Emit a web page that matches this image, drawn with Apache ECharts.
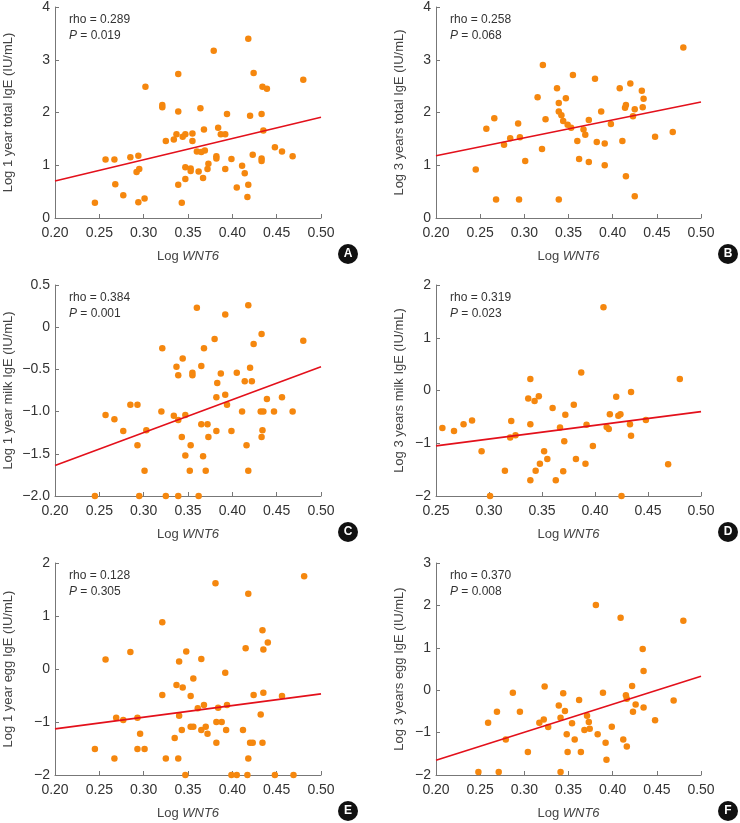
<!DOCTYPE html>
<html>
<head>
<meta charset="utf-8">
<script src="https://cdn.jsdelivr.net/npm/echarts@6/dist/echarts.min.js"></script>
<style>
  html, body { margin: 0; padding: 0; background: #fff; }
  #chart { width: 740px; height: 823px; }
</style>
</head>
<body>
<div id="chart"></div>
<script>
// points: [Log WNT6, Log IgE]
var ptsA = [[0.245,0.29],[0.257,1.11],[0.267,1.11],[0.268,0.64],[0.277,0.43],[0.285,1.15],[0.294,1.18],[0.292,0.87],[0.295,0.93],[0.294,0.30],[0.301,0.37],[0.302,2.49],[0.321,2.14],[0.321,2.10],[0.325,1.46],[0.334,1.49],[0.337,1.59],[0.339,2.73],[0.339,2.02],[0.339,0.63],[0.343,0.29],[0.344,1.54],[0.347,1.59],[0.347,0.96],[0.347,0.74],[0.353,0.94],[0.353,0.89],[0.355,1.60],[0.355,1.46],[0.360,1.26],[0.362,0.88],[0.364,2.08],[0.365,1.25],[0.369,1.28],[0.368,1.68],[0.367,0.76],[0.373,1.03],[0.372,0.93],[0.379,3.17],[0.382,1.17],[0.382,1.13],[0.384,1.71],[0.387,1.59],[0.392,1.59],[0.394,1.97],[0.392,0.93],[0.399,1.12],[0.405,0.58],[0.411,0.99],[0.414,0.85],[0.417,0.40],[0.418,0.63],[0.418,3.40],[0.420,1.94],[0.423,1.20],[0.424,2.75],[0.433,1.97],[0.434,2.49],[0.439,2.45],[0.435,1.66],[0.433,1.13],[0.433,1.08],[0.448,1.34],[0.456,1.26],[0.468,1.17],[0.480,2.62]];
var ptsB = [[0.245,0.92],[0.257,1.69],[0.266,1.89],[0.268,0.35],[0.277,1.39],[0.284,1.51],[0.293,1.79],[0.295,1.53],[0.294,0.35],[0.301,1.08],[0.315,2.29],[0.320,1.31],[0.321,2.90],[0.324,1.87],[0.337,2.46],[0.339,2.18],[0.339,2.02],[0.339,0.35],[0.342,1.95],[0.344,1.84],[0.347,2.27],[0.349,1.77],[0.353,1.71],[0.355,2.71],[0.360,1.46],[0.362,1.12],[0.367,1.68],[0.369,1.58],[0.373,1.06],[0.373,1.86],[0.380,2.64],[0.382,1.44],[0.387,2.02],[0.391,1.41],[0.391,1.00],[0.398,1.78],[0.408,2.46],[0.411,1.46],[0.414,2.09],[0.415,2.14],[0.415,0.79],[0.420,2.55],[0.423,1.93],[0.425,2.06],[0.425,0.41],[0.433,2.41],[0.435,2.26],[0.434,2.10],[0.448,1.54],[0.468,1.63],[0.480,3.23]];
var ptsC = [[0.245,-2.00],[0.257,-1.04],[0.267,-1.09],[0.277,-1.23],[0.285,-0.92],[0.293,-0.92],[0.293,-1.40],[0.295,-2.00],[0.301,-1.70],[0.303,-1.22],[0.321,-0.25],[0.320,-1.00],[0.325,-2.00],[0.334,-1.05],[0.337,-0.47],[0.339,-0.57],[0.339,-1.10],[0.339,-2.00],[0.343,-1.30],[0.344,-0.37],[0.347,-1.04],[0.347,-1.52],[0.352,-1.70],[0.353,-1.40],[0.355,-0.54],[0.355,-0.57],[0.360,0.23],[0.362,-2.00],[0.365,-0.46],[0.365,-1.15],[0.367,-1.53],[0.368,-0.25],[0.370,-1.70],[0.372,-1.15],[0.373,-1.30],[0.380,-0.14],[0.382,-0.83],[0.382,-1.23],[0.383,-0.66],[0.387,-0.55],[0.392,0.15],[0.392,-0.80],[0.394,-0.92],[0.399,-1.23],[0.405,-0.54],[0.411,-1.00],[0.414,-0.64],[0.416,-1.40],[0.418,0.26],[0.418,-1.70],[0.420,-0.48],[0.422,-0.64],[0.424,-0.20],[0.433,-0.08],[0.432,-1.00],[0.435,-1.00],[0.434,-1.22],[0.433,-1.30],[0.439,-0.85],[0.447,-1.00],[0.456,-0.83],[0.468,-1.00],[0.480,-0.16]];
var ptsD = [[0.256,-0.71],[0.267,-0.77],[0.276,-0.64],[0.284,-0.57],[0.293,-1.15],[0.301,-2.00],[0.315,-1.52],[0.320,-0.89],[0.321,-0.58],[0.325,-0.85],[0.337,-0.15],[0.339,0.22],[0.339,-0.64],[0.339,-1.70],[0.343,-0.20],[0.344,-1.52],[0.347,-0.11],[0.348,-1.39],[0.352,-1.15],[0.355,-1.30],[0.360,-0.33],[0.363,-1.70],[0.367,-0.70],[0.370,-1.53],[0.371,-0.96],[0.372,-0.46],[0.380,-0.27],[0.382,-1.30],[0.387,0.34],[0.391,-1.39],[0.392,-0.65],[0.398,-1.05],[0.408,1.58],[0.411,-0.69],[0.413,-0.73],[0.414,-0.45],[0.420,-0.12],[0.422,-0.48],[0.424,-0.45],[0.425,-2.00],[0.433,-0.64],[0.434,-0.03],[0.434,-0.86],[0.448,-0.56],[0.469,-1.40],[0.480,0.22]];
var ptsE = [[0.245,-1.51],[0.257,0.18],[0.267,-1.69],[0.269,-0.92],[0.277,-0.96],[0.285,0.32],[0.293,-0.92],[0.293,-1.51],[0.296,-1.22],[0.301,-1.51],[0.321,0.88],[0.321,-0.49],[0.325,-1.69],[0.335,-1.30],[0.337,-0.30],[0.340,0.14],[0.340,-0.88],[0.339,-1.69],[0.343,-1.15],[0.344,-0.35],[0.348,0.33],[0.347,-2.00],[0.353,-0.51],[0.353,-1.09],[0.356,-1.09],[0.356,-0.18],[0.361,-0.74],[0.365,0.19],[0.365,-1.15],[0.368,-0.68],[0.370,-1.09],[0.372,-1.22],[0.381,1.62],[0.382,-1.00],[0.382,-1.39],[0.384,-0.73],[0.388,-1.00],[0.392,-0.07],[0.393,-1.15],[0.394,-0.68],[0.399,-2.00],[0.405,-2.00],[0.412,-1.15],[0.415,0.39],[0.417,-2.00],[0.418,1.42],[0.418,-1.69],[0.420,-1.39],[0.423,-1.39],[0.424,-0.49],[0.432,-0.86],[0.434,0.73],[0.434,-1.39],[0.435,0.37],[0.435,-0.45],[0.440,0.50],[0.448,-2.00],[0.456,-0.51],[0.469,-2.00],[0.481,1.75]];
var ptsF = [[0.248,-1.93],[0.259,-0.77],[0.269,-0.51],[0.271,-1.93],[0.279,-1.16],[0.287,-0.06],[0.295,-0.51],[0.304,-1.46],[0.317,-0.77],[0.322,-0.69],[0.323,0.09],[0.327,-0.87],[0.339,-0.36],[0.341,-0.65],[0.341,-1.93],[0.344,-0.07],[0.346,-0.49],[0.348,-1.04],[0.349,-1.46],[0.354,-0.78],[0.357,-1.16],[0.362,-0.23],[0.364,-1.46],[0.368,-0.94],[0.371,-0.60],[0.373,-0.75],[0.374,-0.91],[0.381,2.01],[0.383,-1.04],[0.389,-0.06],[0.392,-1.24],[0.393,-1.64],[0.399,-0.86],[0.409,1.71],[0.412,-1.16],[0.415,-0.12],[0.416,-0.20],[0.416,-1.33],[0.422,0.10],[0.423,-0.51],[0.426,-0.34],[0.434,0.97],[0.435,0.45],[0.435,-0.41],[0.448,-0.71],[0.469,-0.24],[0.480,1.64]];

// fitted lines: [[x0,y0],[x1,y1]]
var fitA = [[0.20,0.70],[0.50,1.91]];
var fitB = [[0.20,1.18],[0.50,2.20]];
var fitC = [[0.20,-1.64],[0.50,-0.47]];
var fitD = [[0.25,-1.05],[0.50,-0.40]];
var fitE = [[0.20,-1.13],[0.50,-0.47]];
var fitF = [[0.20,-1.65],[0.50,0.33]];

var letters = ['A','B','C','D','E','F'];
var yNames = ['Log 1 year total IgE (IU/mL)','Log 3 years total IgE (IU/mL)','Log 1 year milk IgE (IU/mL)','Log 3 years milk IgE (IU/mL)','Log 1 year egg IgE (IU/mL)','Log 3 years egg IgE (IU/mL)'];
var rhos = ['0.289','0.258','0.384','0.319','0.128','0.370'];
var pvals = ['0.019','0.068','0.001','0.023','0.305','0.008'];
var xMins = [0.20,0.20,0.20,0.25,0.20,0.20];
var yMins = [0,0,-2,-2,-2,-2];
var yMaxs = [4,4,0.5,2,2,3];
var yIntervals = [1,1,0.5,1,1,1];
var pts = [ptsA,ptsB,ptsC,ptsD,ptsE,ptsF];
var fits = [fitA,fitB,fitC,fitD,fitE,fitF];

var FONT = 'Liberation Sans, Arial, sans-serif';
var grids = [
    {left: 55, top: 7, width: 266, height: 211},
    {left: 436, top: 7, width: 265, height: 211},
    {left: 55, top: 285, width: 266, height: 211},
    {left: 436, top: 285, width: 265, height: 211},
    {left: 55, top: 563, width: 266, height: 212},
    {left: 436, top: 563, width: 265, height: 212}
];

var chart = echarts.init(document.getElementById('chart'));
var xAxes = [], yAxes = [], series = [], graphic = [];

function minus(s) { return s.replace('-', '\u2212'); }

for (var i = 0; i < 6; i++) {
    var g = grids[i];
    var leftCol = (i % 2 === 0);
    xAxes.push({
        gridIndex: i, type: 'value', min: xMins[i], max: 0.5, interval: 0.05,
        name: '{n|Log }{w|WNT6}', nameLocation: 'middle', nameGap: 32,
        nameTextStyle: {
            rich: {
                n: {fontFamily: FONT, fontSize: 13, color: '#444'},
                w: {fontFamily: FONT, fontSize: 13, color: '#444', fontStyle: 'italic'}
            }
        },
        axisLine: {onZero: false, lineStyle: {color: '#777', width: 1}},
        axisTick: {inside: true, length: 4, lineStyle: {color: '#777'}},
        axisLabel: {fontFamily: FONT, fontSize: 14, color: '#333', margin: 8,
            formatter: function (v) { return v.toFixed(2); }},
        splitLine: {show: false}
    });
    yAxes.push({
        gridIndex: i, type: 'value', min: yMins[i], max: yMaxs[i], interval: yIntervals[i],
        name: yNames[i], nameLocation: 'middle', nameGap: leftCol ? 40 : 30,
        nameTextStyle: {fontFamily: FONT, fontSize: 13, color: '#444'},
        axisLine: {show: true, onZero: false, lineStyle: {color: '#777', width: 1}},
        axisTick: {show: true, inside: true, length: 4, lineStyle: {color: '#777'}},
        axisLabel: {fontFamily: FONT, fontSize: 14, color: '#333', margin: 5,
            formatter: (function (step) {
                return function (v) {
                    if (v === 0) return '0';
                    return minus(step < 1 ? v.toFixed(1) : String(v));
                };
            })(yIntervals[i])},
        splitLine: {show: false}
    });
    series.push({
        type: 'scatter', xAxisIndex: i, yAxisIndex: i, data: pts[i],
        symbolSize: 6.5, itemStyle: {color: '#f5870e', opacity: 1}, z: 2
    });
    series.push({
        type: 'line', xAxisIndex: i, yAxisIndex: i, data: fits[i],
        symbol: 'none', lineStyle: {color: '#e3101b', width: 1.6}, z: 3
    });
    graphic.push({
        type: 'text', left: g.left + 14, top: g.top + 5,
        style: {
            text: 'rho = ' + rhos[i] + '\n{p|P} = ' + pvals[i],
            fontFamily: FONT, fontSize: 12, fill: '#333', lineHeight: 16,
            rich: {p: {fontStyle: 'italic', fontFamily: FONT, fontSize: 12, fill: '#333'}}
        }
    });
    var cx = g.left + g.width + 27, cy = g.top + g.height + 36;
    graphic.push({
        type: 'circle', shape: {cx: cx, cy: cy, r: 10}, style: {fill: '#111'}
    });
    graphic.push({
        type: 'text', x: cx, y: cy,
        style: {text: letters[i], fontFamily: FONT, fontSize: 12, fontWeight: 'bold',
            fill: '#fff', align: 'center', verticalAlign: 'middle'}
    });
}

chart.setOption({
    animation: false,
    grid: grids,
    xAxis: xAxes,
    yAxis: yAxes,
    series: series,
    graphic: graphic
});
</script>
</body>
</html>
